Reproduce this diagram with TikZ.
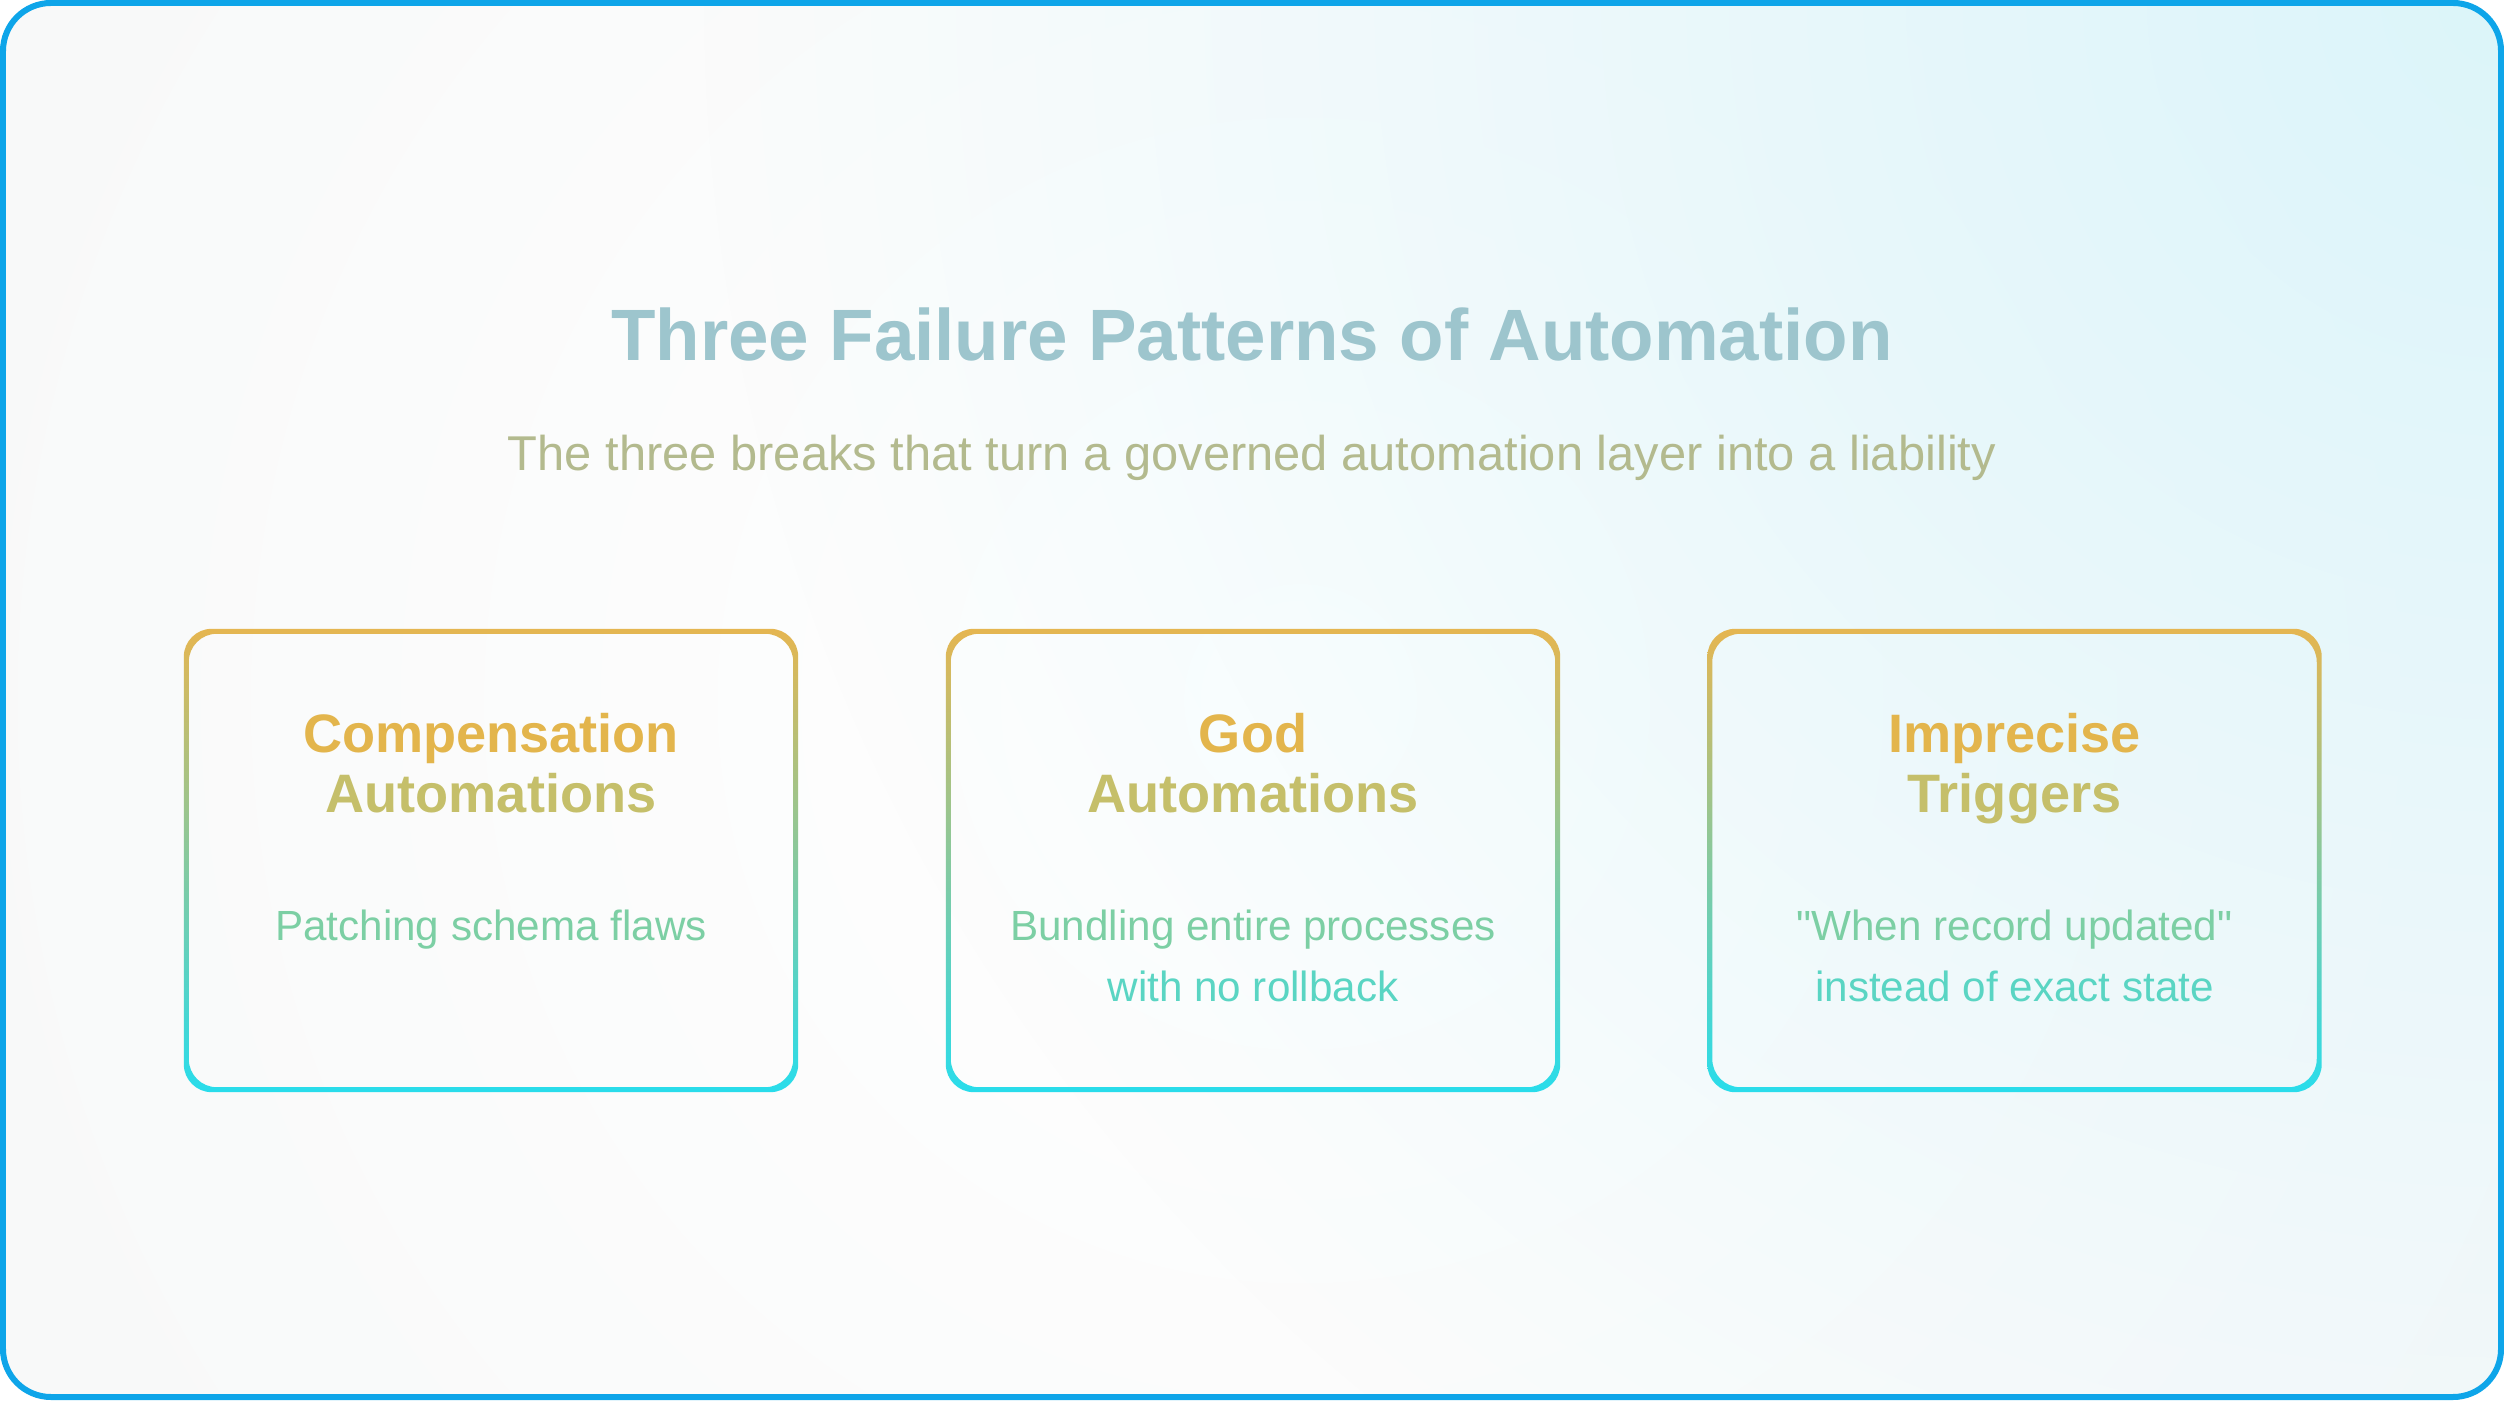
\documentclass[tikz,border=0pt]{standalone}
\usepackage{fontspec}
\setmainfont{Liberation Sans}[Ligatures=TeXOff]
\usetikzlibrary{positioning,fadings}
\definecolor{frameblue}{HTML}{0EA5E9}
\definecolor{bgbase}{HTML}{F8F9F9}
\definecolor{bgcyan}{HTML}{DCF5FA}
\definecolor{titlecol}{HTML}{9DC5CD}
\definecolor{subcol}{HTML}{B3BA8E}
\definecolor{edgetop}{HTML}{E8B54E}
\definecolor{edgebot}{HTML}{25DDEE}
\definecolor{headtop}{HTML}{E3B54C}
\definecolor{headbot}{HTML}{C5BF6A}
\definecolor{desctop}{HTML}{7CCFA4}
\definecolor{descbot}{HTML}{5AD5C3}
\tikzfading[name=glowfade,inner color=transparent!0,outer color=transparent!100]
\begin{document}
\begin{tikzpicture}[card/.style={minimum width=6.08cm,minimum height=4.57cm,inner sep=0pt},
  cardhead/.style={font=\fontsize{15.4}{17.2}\selectfont\bfseries,align=center,inner sep=0pt},
  carddesc/.style={font=\fontsize{12}{17.2}\selectfont,align=center,inner sep=0pt}]
\fill[white] (0,0) rectangle (25.04,14);
% background with cyan glow top right
\begin{scope}
\clip[rounded corners=0.48cm] (0.03,0.03) rectangle (25.01,13.97);
\fill[bgbase] (0,0) rectangle (25.04,14);
\shade[inner color=white,outer color=bgbase] (13,7) circle (14);
\fill[bgcyan,path fading=glowfade] (25.04,14) circle (18);
\end{scope}
\draw[frameblue,line width=0.06cm,rounded corners=0.48cm] (0.03,0.03) rectangle (25.01,13.97);
\node[font=\fontsize{20.7}{24}\selectfont\bfseries,text=titlecol,anchor=base] (title) at (12.52,10.39) {Three Failure Patterns of Automation};
\node[font=\fontsize{13.9}{16}\selectfont,text=subcol,anchor=base] (subtitle) at (12.52,9.29) {The three breaks that turn a governed automation layer into a liability};
\foreach \n/\x/\ha/\hb/\da/\db in {comp/4.91/Compensation/Automations/Patching schema flaws/,god/12.53/God/Automations/Bundling entire processes/with no rollback,trig/20.145/Imprecise/Triggers/"When record updated"/instead of exact state}{
  \node[card] (\n) at (\x,5.395) {};
  \begin{scope}[even odd rule]
  \clip[rounded corners=0.28cm] ([shift={(-0.025,-0.025)}]\n.south west) rectangle ([shift={(0.025,0.025)}]\n.north east)
    ([shift={(0.025,0.025)}]\n.south west) rectangle ([shift={(-0.025,-0.025)}]\n.north east);
  \shade[top color=edgetop,bottom color=edgebot] ([shift={(-0.1,-0.1)}]\n.south west) rectangle ([shift={(0.1,0.1)}]\n.north east);
  \end{scope}
  \node[cardhead,below=0.81cm of \n.north] (\n-head) {\color{headtop}\ha\\\color{headbot}\hb};
  \node[carddesc,below=2.78cm of \n.north] (\n-desc) {\color{desctop}\da\\\color{descbot}\db};
}
\end{tikzpicture}
\end{document}
